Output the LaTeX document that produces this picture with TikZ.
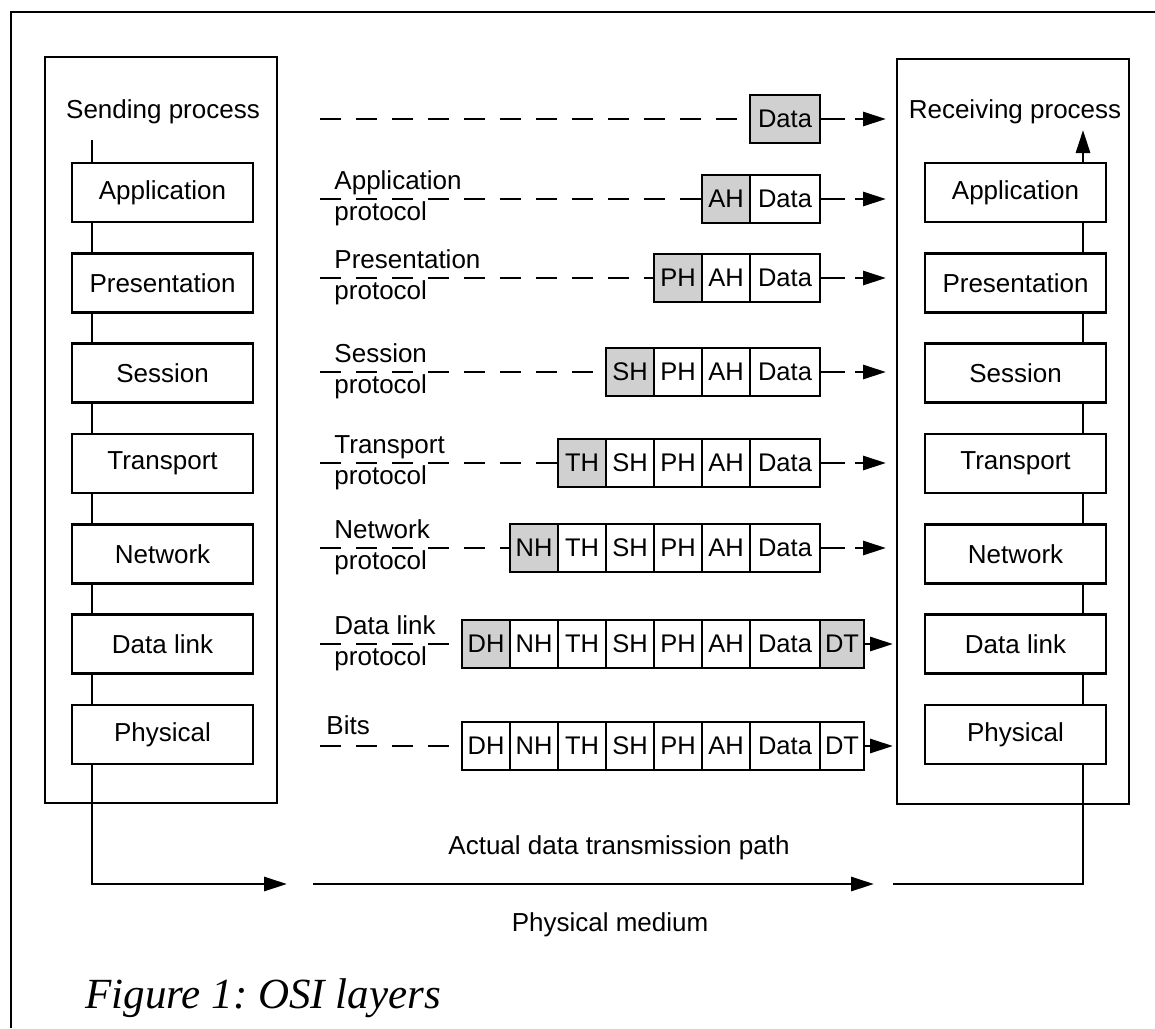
\documentclass[tikz,border=0pt]{standalone}
\usepackage{fontspec}
\setmainfont{Liberation Sans}
\newfontfamily\capfont{Liberation Serif}
\usetikzlibrary{arrows.meta}
\definecolor{shade}{RGB}{208,208,208}
\begin{document}
\frenchspacing
\begin{tikzpicture}[x=1pt,y=-1pt,line width=2.9pt,
  lab/.style={font=\fontsize{26}{30}\selectfont},
  layer/.style={draw,minimum width=181pt,minimum height=59pt,inner sep=0pt,lab},
  bigbox/.style={draw,minimum width=232pt,inner sep=0pt},
  cell/.style={draw,fill=white,minimum width=48pt,minimum height=48pt,inner sep=0pt,font=\fontsize{25.5}{30}\selectfont},
  cDH/.style={cell,at={(486,#1)}},
  cNH/.style={cell,at={(534,#1)}},
  cTH/.style={cell,at={(582,#1)}},
  cSH/.style={cell,at={(630,#1)}},
  cPH/.style={cell,at={(678,#1)}},
  cAH/.style={cell,at={(726,#1)}},
  cData/.style={cell,minimum width=70pt,at={(785,#1)}},
  cDT/.style={cell,minimum width=44pt,at={(842,#1)}},
  sh/.style={fill=shade},
  tip/.style={-{Triangle[length=23pt,width=14pt]}},
  dashline/.style={dash pattern=on 21pt off 15pt},
  rarrow/.style={tip,dash pattern=on 24pt off 10pt on 200pt},
  plab/.style={lab,anchor=base west,inner sep=0pt},
]
\useasboundingbox (0,0) rectangle (1155,1028);
% outer frame (top and left edges)
\draw (11,1028) -- (11,12) -- (1155,12);

% sending and receiving process boxes
\node[bigbox,minimum height=746pt] (sendbox) at (161,430) {};
\node[bigbox,minimum height=745pt] (recvbox) at (1013,431.5) {};
\node[lab,anchor=base] (sendlab) at (163,118) {Sending process};
\node[lab,anchor=base] (recvlab) at (1015,118) {Receiving process};

% layers
\foreach \n/\t [count=\i from 0] in {App/Application,Pres/Presentation,Sess/Session,Trans/Transport,Net/Network,DL/Data link,Phys/Physical}{
  \node[layer] (l\n) at (162.5,{192.5+90.33*\i}) {\t};
  \node[layer] (r\n) at (1015.5,{192.5+90.33*\i}) {\t};
}
\coordinate (sx) at (92,140);
\coordinate (rx) at (1083,130);
\draw (sx) -- (sx |- lApp.north);
\draw[tip] (rApp.north -| rx) -- (rx);
\foreach \a/\b in {App/Pres,Pres/Sess,Sess/Trans,Trans/Net,Net/DL,DL/Phys}{
  \draw (l\a.south -| sx) -- (l\b.north -| sx);
  \draw (r\a.south -| rx) -- (r\b.north -| rx);
}

% packets
\node[cData=119,sh] (r0Data) {Data};

\node[cAH=199,sh] (r1AH) {AH};
\node[cData=199] (r1Data) {Data};

\node[cPH=278,sh] (r2PH) {PH};
\node[cAH=278] (r2AH) {AH};
\node[cData=278] (r2Data) {Data};

\node[cSH=372,sh] (r3SH) {SH};
\node[cPH=372] (r3PH) {PH};
\node[cAH=372] (r3AH) {AH};
\node[cData=372] (r3Data) {Data};

\node[cTH=463,sh] (r4TH) {TH};
\node[cSH=463] (r4SH) {SH};
\node[cPH=463] (r4PH) {PH};
\node[cAH=463] (r4AH) {AH};
\node[cData=463] (r4Data) {Data};

\node[cNH=548,sh] (r5NH) {NH};
\node[cTH=548] (r5TH) {TH};
\node[cSH=548] (r5SH) {SH};
\node[cPH=548] (r5PH) {PH};
\node[cAH=548] (r5AH) {AH};
\node[cData=548] (r5Data) {Data};

\node[cDH=644,sh] (r6DH) {DH};
\node[cNH=644] (r6NH) {NH};
\node[cTH=644] (r6TH) {TH};
\node[cSH=644] (r6SH) {SH};
\node[cPH=644] (r6PH) {PH};
\node[cAH=644] (r6AH) {AH};
\node[cData=644] (r6Data) {Data};
\node[cDT=644,sh] (r6DT) {DT};

\node[cDH=746] (r7DH) {DH};
\node[cNH=746] (r7NH) {NH};
\node[cTH=746] (r7TH) {TH};
\node[cSH=746] (r7SH) {SH};
\node[cPH=746] (r7PH) {PH};
\node[cAH=746] (r7AH) {AH};
\node[cData=746] (r7Data) {Data};
\node[cDT=746] (r7DT) {DT};

% left dashed lines
\coordinate (s0) at (320,119);
\coordinate (s1) at (320,199);
\coordinate (s2) at (320,278);
\coordinate (s3) at (320,372);
\coordinate (s4) at (320,463);
\coordinate (s5) at (320,548);
\coordinate (s6) at (320,644);
\coordinate (s7) at (320,746);
\draw[dashline] (s0) -- (r0Data.west);
\draw[dashline] (s1) -- (r1AH.west);
\draw[dashline] (s2) -- (r2PH.west);
\draw[dashline] (s3) -- (r3SH.west);
\draw[dashline] (s4) -- (r4TH.west);
\draw[dashline] (s5) -- (r5NH.west);
\draw[dashline] (s6) -- (r6DH.west);
\draw[dashline] (s7) -- (r7DH.west);

% right arrows
\coordinate (e0) at (886,119);
\coordinate (e1) at (886,199);
\coordinate (e2) at (886,278);
\coordinate (e3) at (886,372);
\coordinate (e4) at (886,463);
\coordinate (e5) at (886,548);
\coordinate (e6) at (893,644);
\coordinate (e7) at (893,746);
\draw[rarrow] (r0Data.east) -- (e0);
\draw[rarrow] (r1Data.east) -- (e1);
\draw[rarrow] (r2Data.east) -- (e2);
\draw[rarrow] (r3Data.east) -- (e3);
\draw[rarrow] (r4Data.east) -- (e4);
\draw[rarrow] (r5Data.east) -- (e5);
\draw[tip] (r6DT.east) -- (e6);
\draw[tip] (r7DT.east) -- (e7);

% protocol labels
\node[plab] (p1a) at (333,189) {Application};
\node[plab] (p1b) at (333,220) {protocol};
\node[plab] (p2a) at (333,268) {Presentation};
\node[plab] (p2b) at (333,299) {protocol};
\node[plab] (p3a) at (333,362) {Session};
\node[plab] (p3b) at (333,393) {protocol};
\node[plab] (p4a) at (333,453) {Transport};
\node[plab] (p4b) at (333,484) {protocol};
\node[plab] (p5a) at (333,538) {Network};
\node[plab] (p5b) at (333,569) {protocol};
\node[plab] (p6a) at (333,634) {Data link};
\node[plab] (p6b) at (333,665) {protocol};
\node[plab] (p7a) at (325,734) {Bits};

% physical medium path
\coordinate (b2) at (287,884);
\coordinate (b3) at (313,884);
\coordinate (b4) at (874,884);
\coordinate (b5) at (893,884);
\draw[tip] (lPhys.south -| sx) |- (b2);
\draw[tip] (b3) -- (b4);
\draw (b5) -| (rPhys.south -| rx);
\node[lab] (actual) at (619,848) {Actual data transmission path};
\node[lab] (medium) at (610,925) {Physical medium};

% caption
\node[anchor=base west,inner sep=0pt,font=\capfont\itshape\fontsize{43}{48}\selectfont] (caption) at (84,1008) {Figure 1: OSI layers};
\end{tikzpicture}
\end{document}
